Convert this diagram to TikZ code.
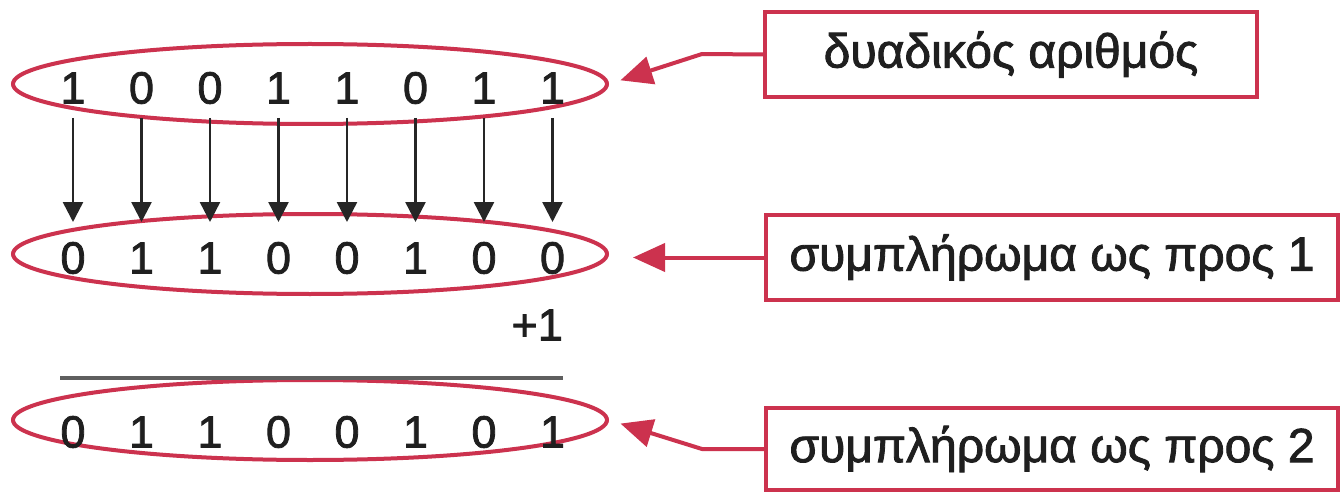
\documentclass[tikz,border=0pt]{standalone}
\usepackage{fontspec}
\setmainfont{Liberation Sans}
\newfontfamily\heavy{Liberation Sans}[FakeBold=1.8]
\usetikzlibrary{shapes.geometric,arrows.meta}
\definecolor{myred}{RGB}{204,50,78}
\definecolor{rulegray}{RGB}{95,95,95}
\begin{document}
\begin{tikzpicture}[x=1pt,y=-1pt,
  digit/.style={font=\heavy\fontsize{45}{50}\selectfont, inner sep=0pt, text=black!88},
  ring/.style={ellipse, draw=myred, line width=4pt, minimum width=594pt, minimum height=80pt, inner sep=0pt},
  tag/.style={draw=myred, line width=4pt, font=\heavy\fontsize{48}{54}\selectfont, inner sep=0pt, text=black!88},
  down/.style={line width=2.5pt, black!85, -{Triangle[width=20pt,length=20pt]}},
  point/.style={draw=myred, line width=4pt, -{Triangle[width=28pt,length=32pt]}, myred, line join=round}
]
\useasboundingbox (0,0) rectangle (1342,492);
\fill[white] (0,0) rectangle (1342,492);

% ellipses
\node[ring] (e1) at (310,84) {};
\node[ring] (e2) at (310,254) {};
\node[ring] (e3) at (310,420) {};

% digits
\foreach \d [count=\i] in {1,0,0,1,1,0,1,1}
  \node[digit] (t\i) at ({73+68.5*(\i-1)},88) {\d};
\foreach \d [count=\i] in {0,1,1,0,0,1,0,0}
  \node[digit] (m\i) at ({73+68.5*(\i-1)},258) {\d};
\foreach \d [count=\i] in {0,1,1,0,0,1,0,1}
  \node[digit] (b\i) at ({73+68.5*(\i-1)},432) {\d};

% vertical arrows
\foreach \i in {1,...,8}
  \draw[down] ([yshift=-30pt]t\i.center) -- ([yshift=36pt]m\i.center);

% +1 and rule
\node[digit, anchor=east] (plus) at (563,325) {+1};
\coordinate (r1) at (60,378);
\coordinate (r2) at (563,378);
\draw[rulegray, line width=4pt] (r1) -- (r2);

% label boxes
\node[tag, minimum width=492pt, minimum height=85pt] (l1) at (1011,54.5) {δυαδικός αριθμός};
\node[tag, minimum width=572pt, minimum height=85pt] (l2) at (1052,257.5) {συμπλήρωμα ως προς 1};
\node[tag, minimum width=572pt, minimum height=82pt] (l3) at (1052,449) {συμπλήρωμα ως προς 2};

% red pointers
\coordinate (k1) at (702,54);
\coordinate (k3) at (702,449);
\draw[point, shorten >=12pt] (l1.west) -- (k1) -- (e1.east);
\draw[point, shorten >=24pt] (l2.west) -- (l2.west -| e2.east);
\draw[point, shorten >=12pt] (l3.west) -- (k3) -- (e3.east);
\end{tikzpicture}
\end{document}
